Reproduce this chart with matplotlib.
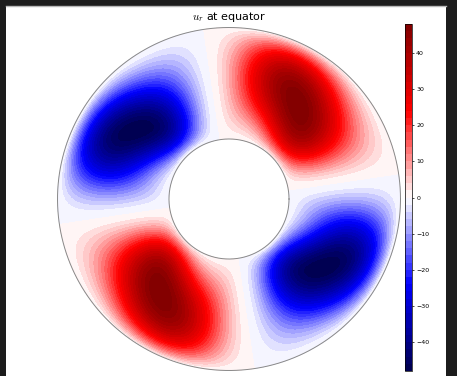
import numpy as np
import matplotlib
matplotlib.use("Agg")
import matplotlib.pyplot as plt
from matplotlib.patches import Rectangle

plt.rcParams["mathtext.fontset"] = "cm"

# values
radius_ratio = 0.35          # inner / outer radius
m_azim = 2                   # azimuthal wavenumber
zero_line_deg = 8.5          # angle of the straight zero lines
u_peak = 48.0                # max |u_r|
level_step = 2.0
cbar_ticks = [-40, -30, -20, -10, 0, 10, 20, 30, 40]
# shape of the cells (radial / azimuthal sharpness, radial tilt)
radial_power = 1.1
azim_power = 1.5
tilt_strength = 0.6

W, H = 457, 376
fig = plt.figure(figsize=(W/100, H/100), dpi=100, facecolor="#1c1c1c")
fig.patches.append(Rectangle((6/W, 0), 440/W, 370/H, transform=fig.transFigure,
                             facecolor="white", edgecolor="none", zorder=-1))
fig.lines.append(plt.Line2D([6/W, 446/W], [370.5/H, 370.5/H], transform=fig.transFigure,
                            color="#b8b8b8", lw=1.0))

ax = fig.add_axes([57/W, 5/H, 344/W, 344/H])
cax = fig.add_axes([405/W, 5/H, 7/W, 347/H])

r = np.linspace(radius_ratio, 1.0, 220)
phi = np.linspace(0, 2*np.pi, 900)
RR, PP = np.meshgrid(r, phi)
xr = (RR - radius_ratio)/(1 - radius_ratio)
th = PP - np.deg2rad(zero_line_deg)
s = np.sin(m_azim*th)
rad = (4*xr*(1 - xr))**radial_power
ang = np.sign(s)*np.abs(s)**azim_power
tilt = 1 + tilt_strength*(1 - 2*xr)*np.sin(2*m_azim*th)
U = rad*ang*tilt
U = U/np.abs(U).max()*u_peak

X = RR*np.cos(PP)
Y = RR*np.sin(PP)
levels = np.arange(-u_peak, u_peak + level_step/2, level_step)
cf = ax.contourf(X, Y, U, levels=levels, cmap="seismic")

t = np.linspace(0, 2*np.pi, 400)
ax.plot(np.cos(t), np.sin(t), color="#888888", lw=0.7)
ax.plot(radius_ratio*np.cos(t), radius_ratio*np.sin(t), color="#888888", lw=0.7)
ax.set_xlim(-1.003, 1.003)
ax.set_ylim(-1.003, 1.003)
ax.set_aspect("equal")
ax.axis("off")
ax.set_title("$u_r$ at equator", fontsize=8, pad=5)

cb = fig.colorbar(cf, cax=cax, ticks=cbar_ticks)
cb.ax.tick_params(labelsize=4.5, length=1.5, width=0.5, pad=1.5)
cb.outline.set_linewidth(0.5)

fig.savefig("out.png", dpi=100, facecolor=fig.get_facecolor())
